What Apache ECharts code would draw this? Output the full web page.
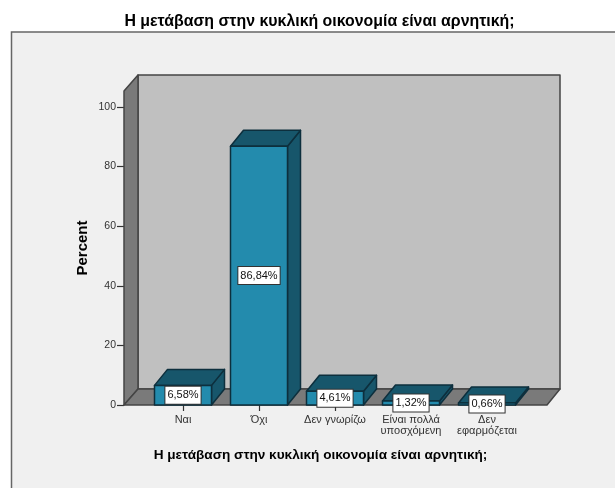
<!DOCTYPE html>
<html><head><meta charset="utf-8">
<style>html,body{margin:0;padding:0;background:#fff}#c{width:615px;height:488px}</style>
<script src="https://cdn.jsdelivr.net/npm/echarts@6/dist/echarts.min.js"></script>
</head><body><div id="c"></div>
<script>
var categories = ['Ναι', 'Όχι', 'Δεν γνωρίζω', 'Είναι πολλά\nυποσχόμενη', 'Δεν\nεφαρμόζεται'];
var values = [6.58, 86.84, 4.61, 1.32, 0.66];
var valueLabels = ['6,58%', '86,84%', '4,61%', '1,32%', '0,66%'];
var titleText = 'Η μετάβαση στην κυκλική οικονομία είναι αρνητική;';

var DX = 13, DY = 16, BAR = 57, FONT = '"Liberation Sans", Arial, sans-serif';
var chart = echarts.init(document.getElementById('c'), null, {renderer: 'canvas'});

function wallItem(params, api) {
  var g = params.coordSys;
  var x0 = 124, xBackL = 138, xFrontR = 547, xBackR = 560;
  var yF = g.y + g.height, yB = yF - DY, top = 75;
  var st = {stroke: '#444', lineWidth: 1.5, lineJoin: 'round'};
  return {type: 'group', children: [
    {type: 'rect', shape: {x: xBackL, y: top, width: xBackR - xBackL, height: yB - top},
     style: Object.assign({fill: '#c0c0c0'}, st)},
    {type: 'polygon', shape: {points: [[x0, top + DY], [xBackL, top], [xBackL, yB], [x0, yF]]},
     style: Object.assign({fill: '#7a7a7a'}, st)},
    {type: 'polygon', shape: {points: [[x0, yF], [xBackL, yB], [xBackR, yB], [xFrontR, yF]]},
     style: Object.assign({fill: '#7a7a7a'}, st)}
  ]};
}

function barItem(params, api) {
  var i = api.value(0), v = api.value(1);
  var c = api.coord([i, v]), b = api.coord([i, 0]);
  var l = c[0] - BAR / 2, r = c[0] + BAR / 2, t = c[1], y0 = b[1];
  var st = {stroke: '#0d2f3d', lineWidth: 1.5, lineJoin: 'round'};
  var cy = (t + y0) / 2;
  return {type: 'group', children: [
    {type: 'polygon', shape: {points: [[r, t], [r + DX, t - DY], [r + DX, y0 - DY], [r, y0]]},
     style: Object.assign({fill: '#17566b'}, st)},
    {type: 'polygon', shape: {points: [[l, t], [l + DX, t - DY], [r + DX, t - DY], [r, t]]},
     style: Object.assign({fill: '#17566b'}, st)},
    {type: 'rect', shape: {x: l, y: t, width: BAR, height: y0 - t},
     style: Object.assign({fill: '#238bad'}, st)},
    {type: 'text', x: c[0], y: cy, z2: 10, style: {
      text: valueLabels[params.dataIndex], font: '11px ' + FONT, fill: '#111',
      align: 'center', verticalAlign: 'middle',
      backgroundColor: '#fff', borderColor: '#333', borderWidth: 1, padding: [3, 2, 3, 2]
    }}
  ]};
}

chart.setOption({
  animation: false,
  backgroundColor: '#fff',
  graphic: [{type: 'rect', z: -10, shape: {x: 11.5, y: 32, width: 620, height: 480},
    style: {fill: '#f0f0f0', stroke: '#666', lineWidth: 1.5}}],
  title: {text: titleText, left: 314.5, textAlign: 'center', top: 9, textStyle: {fontFamily: FONT, fontWeight: 'bold', fontSize: 15.9, color: '#000'}},
  grid: {left: 145, width: 380, top: 107, height: 298},
  xAxis: {
    type: 'category', data: categories,
    name: titleText, nameLocation: 'middle', nameGap: 43,
    nameTextStyle: {fontFamily: FONT, fontWeight: 'bold', fontSize: 13.6, color: '#000', padding: [0, 29, 0, 0]},
    axisLine: {show: false},
    axisTick: {show: true, alignWithLabel: true, length: 6, lineStyle: {color: '#333', width: 1.2}},
    axisLabel: {interval: 0, fontFamily: FONT, fontSize: 11, color: '#333', margin: 9, lineHeight: 11.5},
    splitLine: {show: false}
  },
  yAxis: {
    type: 'value', min: 0, max: 100, interval: 20,
    offset: 21,
    name: 'Percent', nameLocation: 'middle', nameGap: 34, nameRotate: 90, nameMoveOverlap: false,
    nameTextStyle: {fontFamily: FONT, fontWeight: 'bold', fontSize: 15, color: '#000', padding: [0, 0, 0, 16]},
    axisLine: {show: false},
    axisTick: {show: true, length: 7, lineStyle: {color: '#333', width: 1.2}},
    axisLabel: {fontFamily: FONT, fontSize: 10.5, color: '#333', margin: 8},
    splitLine: {show: false}
  },
  series: [
    {type: 'custom', z: 1, clip: false, silent: true, renderItem: wallItem, data: [[0, 0]], encode: {x: 0, y: 1}},
    {type: 'custom', z: 2, clip: false, renderItem: barItem,
     data: values.map(function (v, i) { return [i, v]; }), encode: {x: 0, y: 1}}
  ]
});
</script></body></html>
